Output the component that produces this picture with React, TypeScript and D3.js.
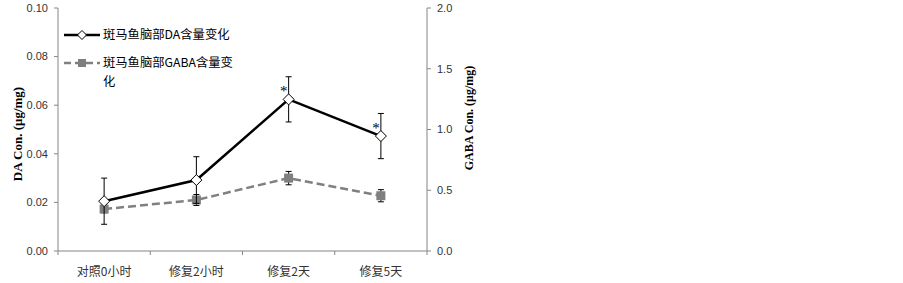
import React from "react";
import * as d3 from "d3";

const categories = ["对照0小时", "修复2小时", "修复2天", "修复5天"];
const daValues = [0.0205, 0.0292, 0.0624, 0.0473];
const daErrors = [0.0095, 0.0096, 0.0093, 0.0093];
const gabaValues = [0.345, 0.42, 0.6, 0.455];
const gabaErrors = [0.03, 0.045, 0.055, 0.05];
const daTicks = [0, 0.02, 0.04, 0.06, 0.08, 0.1];
const gabaTicks = [0, 0.5, 1.0, 1.5, 2.0];
const significant = [false, false, true, true];
const legendLabels = ["斑马鱼脑部DA含量变化", "斑马鱼脑部GABA含量变", "化"];

const W = 903;
const H = 283;
const left = 58;
const right = 427;
const top = 8;
const bottom = 251;

export default function App() {
  const x = d3.scaleBand<string>().domain(categories).range([left, right]);
  const yL = d3.scaleLinear().domain([0, 0.1]).range([bottom, top]);
  const yR = d3.scaleLinear().domain([0, 2]).range([bottom, top]);
  const cx = (c: string) => (x(c) as number) + x.bandwidth() / 2;

  const daLine = d3
    .line<number>()
    .x((_, i) => cx(categories[i]))
    .y((d) => yL(d));
  const gabaLine = d3
    .line<number>()
    .x((_, i) => cx(categories[i]))
    .y((d) => yR(d));

  const axisColor = "#868686";
  const tickFont = "'Liberation Sans', 'Noto Sans', sans-serif";
  const cjk = "'Noto Sans CJK SC', sans-serif";

  const diamond = (px: number, py: number, r: number) =>
    `M${px},${py - r}L${px + r},${py}L${px},${py + r}L${px - r},${py}Z`;

  return (
    <svg width={W} height={H} style={{ position: "absolute", left: 0, top: 0, background: "#fff" }}>
      <rect x={0} y={0} width={W} height={H} fill="#fff" />
      {/* axes */}
      <line x1={left} x2={left} y1={top} y2={bottom} stroke={axisColor} strokeWidth={1} />
      <line x1={right} x2={right} y1={top} y2={bottom} stroke={axisColor} strokeWidth={1} />
      <line x1={left} x2={right} y1={bottom} y2={bottom} stroke={axisColor} strokeWidth={1} />
      {daTicks.map((t) => (
        <g key={"l" + t}>
          <line x1={left - 4} x2={left} y1={yL(t)} y2={yL(t)} stroke={axisColor} />
          <text x={left - 10} y={yL(t)} dy="0.35em" textAnchor="end" fontSize={11} fontFamily={tickFont} fill="#333">
            {d3.format(".2f")(t)}
          </text>
        </g>
      ))}
      {gabaTicks.map((t) => (
        <g key={"r" + t}>
          <line x1={right} x2={right + 4} y1={yR(t)} y2={yR(t)} stroke={axisColor} />
          <text x={right + 10} y={yR(t)} dy="0.35em" textAnchor="start" fontSize={11} fontFamily={tickFont} fill="#333">
            {d3.format(".1f")(t)}
          </text>
        </g>
      ))}
      {[...categories.map((c) => x(c) as number), right].map((p, i) => (
        <line key={"xt" + i} x1={p} x2={p} y1={bottom} y2={bottom + 4} stroke={axisColor} />
      ))}
      {categories.map((c) => (
        <text key={"xl" + c} x={cx(c)} y={272} dy="0.35em" textAnchor="middle" fontSize={12} fontFamily={cjk} fill="#333">
          {c}
        </text>
      ))}
      {/* axis titles */}
      <text
        transform={`translate(17,134) rotate(-90)`}
        textAnchor="middle"
        dy="0.35em"
        fontSize={13}
        fontWeight="bold"
        fontFamily="'Liberation Serif', 'DejaVu Serif', serif"
        fill="#000"
      >
        DA Con. (μg/mg)
      </text>
      <text
        transform={`translate(469,118) rotate(-90)`}
        textAnchor="middle"
        dy="0.35em"
        fontSize={12}
        fontWeight="bold"
        fontFamily="'Liberation Serif', 'DejaVu Serif', serif"
        fill="#000"
      >
        GABA Con. (μg/mg)
      </text>

      {/* GABA series */}
      <path d={gabaLine(gabaValues) || ""} fill="none" stroke="#808080" strokeWidth={2.5} strokeDasharray="8,4" />
      {gabaValues.map((v, i) => {
        const px = cx(categories[i]);
        return (
          <g key={"ge" + i}>
            <line x1={px} x2={px} y1={yR(v + gabaErrors[i])} y2={yR(v - gabaErrors[i])} stroke="#000" strokeWidth={1} />
            <line x1={px - 3} x2={px + 3} y1={yR(v + gabaErrors[i])} y2={yR(v + gabaErrors[i])} stroke="#000" />
            <line x1={px - 3} x2={px + 3} y1={yR(v - gabaErrors[i])} y2={yR(v - gabaErrors[i])} stroke="#000" />
            <rect x={px - 4.5} y={yR(v) - 4.5} width={9} height={9} fill="#7f7f7f" />
          </g>
        );
      })}

      {/* DA series */}
      <path d={daLine(daValues) || ""} fill="none" stroke="#000" strokeWidth={2.5} />
      {daValues.map((v, i) => {
        const px = cx(categories[i]);
        return (
          <g key={"de" + i}>
            <line x1={px} x2={px} y1={yL(v + daErrors[i])} y2={yL(v - daErrors[i])} stroke="#000" strokeWidth={1} />
            <line x1={px - 3} x2={px + 3} y1={yL(v + daErrors[i])} y2={yL(v + daErrors[i])} stroke="#000" />
            <line x1={px - 3} x2={px + 3} y1={yL(v - daErrors[i])} y2={yL(v - daErrors[i])} stroke="#000" />
            <path d={diamond(px, yL(v), 5.5)} fill="#fff" stroke="#000" strokeWidth={1} />
            {significant[i] && (
              <text x={px - 5} y={yL(v) - 3} textAnchor="middle" fontSize={15} fontFamily="'Liberation Serif', serif" fill="#000">
                *
              </text>
            )}
          </g>
        );
      })}

      {/* legend */}
      <line x1={64} x2={100} y1={35} y2={35} stroke="#000" strokeWidth={2.5} />
      <path d={diamond(82, 35, 4.5)} fill="#fff" stroke="#000" strokeWidth={1} />
      <text x={103} y={35} dy="0.35em" fontSize={12.3} fontFamily={cjk} fill="#000">
        {legendLabels[0]}
      </text>
      <line x1={64} x2={100} y1={63} y2={63} stroke="#808080" strokeWidth={2.5} strokeDasharray="7,4" />
      <rect x={78} y={59} width={8} height={8} fill="#7f7f7f" />
      <text x={103} y={63} dy="0.35em" fontSize={12.3} fontFamily={cjk} fill="#000">
        {legendLabels[1]}
      </text>
      <text x={103} y={82} dy="0.35em" fontSize={12.3} fontFamily={cjk} fill="#000">
        {legendLabels[2]}
      </text>
    </svg>
  );
}
